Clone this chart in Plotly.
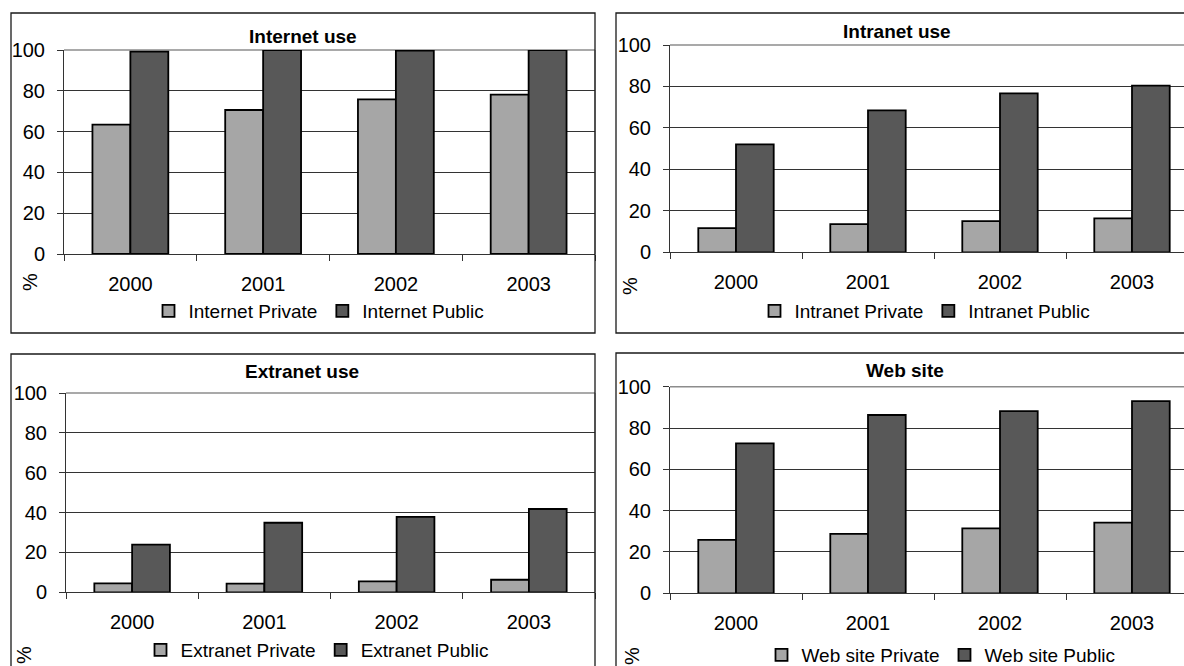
import plotly.graph_objects as go

# Survey results, % of organisations, private vs public sector
years = ["2000", "2001", "2002", "2003"]

internet_private = [63.4, 70.6, 75.8, 78.1]
internet_public = [99.2, 100.0, 99.7, 99.9]

intranet_private = [11.7, 13.6, 15.0, 16.4]
intranet_public = [52.1, 68.5, 76.7, 80.4]

extranet_private = [4.5, 4.4, 5.5, 6.3]
extranet_public = [23.9, 34.9, 37.8, 41.8]

website_private = [25.9, 28.8, 31.4, 34.2]
website_public = [72.6, 86.3, 88.2, 93.0]

y_ticks = [0, 20, 40, 60, 80, 100]

W, H = 1184, 666
FONT = "Arial, 'Liberation Sans', sans-serif"
PRIVATE_COLOR = "#a6a6a6"
PUBLIC_COLOR = "#585858"
TEXT_SIZE = 20
LEGEND_SIZE = 19


def px(x):
    return x / W


def py(y):
    return 1 - y / H


panels = [
    dict(title="Internet use", private=internet_private, public=internet_public,
         pname="Internet Private", uname="Internet Public",
         plot=(64, 50, 595, 254), frame=(11, 13, 595, 333),
         title_xy=(303, 36), pct_xy=(30, 282), legend_xy=(319, 311)),
    dict(title="Intranet use", private=intranet_private, public=intranet_public,
         pname="Intranet Private", uname="Intranet Public",
         plot=(670, 45, 1198, 252.3), frame=(616, 13, 1210, 333),
         title_xy=(897, 31), pct_xy=(630, 286), legend_xy=(925, 311)),
    dict(title="Extranet use", private=extranet_private, public=extranet_public,
         pname="Extranet Private", uname="Extranet Public",
         plot=(66, 393, 595, 592.3), frame=(11, 354, 595, 700),
         title_xy=(302, 371), pct_xy=(24, 655), legend_xy=(317, 650)),
    dict(title="Web site", private=website_private, public=website_public,
         pname="Web site Private", uname="Web site Public",
         plot=(670, 386.7, 1198, 593.3), frame=(616, 353, 1210, 700),
         title_xy=(905, 370), pct_xy=(632, 656), legend_xy=(941, 655)),
]

fig = go.Figure()
shapes = []
annotations = []
layout_axes = {}
legends = {}

for i, p in enumerate(panels, start=1):
    sfx = "" if i == 1 else str(i)
    xa, ya = f"x{sfx}", f"y{sfx}"
    leg = f"legend{sfx}"
    x0, y0, x1, y1 = p["plot"]
    cat_w = (x1 - x0) / 4.0
    x_end = min(x1, W)
    x_range = [-0.5, -0.5 + (x_end - x0) / cat_w]

    for name, vals, color in ((p["pname"], p["private"], PRIVATE_COLOR),
                              (p["uname"], p["public"], PUBLIC_COLOR)):
        fig.add_trace(go.Bar(
            x=years, y=vals, name=name, xaxis=xa, yaxis=ya, legend=leg,
            marker=dict(color=color, line=dict(color="#000000", width=1.8)),
            hoverinfo="x+y+name",
        ))

    layout_axes[f"xaxis{sfx}"] = dict(
        domain=[px(x0), px(x_end)], anchor=ya, type="category",
        range=x_range, tickson="boundaries", ticks="outside", ticklen=6,
        tickcolor="#333333", showline=True, linecolor="#333333", linewidth=1,
        showgrid=False, ticklabelstandoff=12,
        tickfont=dict(family=FONT, size=TEXT_SIZE, color="#000000"), fixedrange=True,
    )
    layout_axes[f"yaxis{sfx}"] = dict(
        domain=[py(y1), py(y0)], anchor=xa, range=[0, 100],
        tickvals=y_ticks, ticks="outside", ticklen=6, tickcolor="#333333",
        showline=True, linecolor="#333333", linewidth=1,
        showgrid=True, gridcolor="#333333", gridwidth=1, zeroline=False,
        ticklabelstandoff=8,
        tickfont=dict(family=FONT, size=TEXT_SIZE, color="#000000"), fixedrange=True,
    )

    # plot area border (top and right) in grey
    shapes.append(dict(type="line", xref="paper", yref="paper",
                       x0=px(x0), x1=px(x_end), y0=py(y0), y1=py(y0),
                       line=dict(color="#8c8c8c", width=1.5), layer="between"))
    if x1 <= W:
        shapes.append(dict(type="line", xref="paper", yref="paper",
                           x0=px(x1), x1=px(x1), y0=py(y0), y1=py(y1),
                           line=dict(color="#8c8c8c", width=1.2), layer="between"))

    # chart frame
    fx0, fy0, fx1, fy1 = p["frame"]
    shapes.append(dict(type="rect", xref="paper", yref="paper",
                       x0=px(fx0), x1=px(fx1), y0=py(fy1), y1=py(fy0),
                       line=dict(color="#1a1a1a", width=1.3), layer="above"))

    tx, ty = p["title_xy"]
    annotations.append(dict(text=f"<b>{p['title']}</b>", xref="paper", yref="paper",
                            x=px(tx), y=py(ty), xanchor="center", yanchor="middle",
                            showarrow=False, font=dict(family=FONT, size=19, color="#000000")))
    cx, cy = p["pct_xy"]
    annotations.append(dict(text="%", xref="paper", yref="paper", textangle=-90,
                            x=px(cx), y=py(cy), xanchor="center", yanchor="middle",
                            showarrow=False, font=dict(family=FONT, size=TEXT_SIZE, color="#000000")))

    lx, ly = p["legend_xy"]
    legends[leg] = dict(orientation="h", x=px(lx), y=py(ly), xanchor="center",
                        yanchor="middle", bgcolor="rgba(0,0,0,0)", borderwidth=0,
                        font=dict(family=FONT, size=LEGEND_SIZE, color="#000000"),
                        itemwidth=30, tracegroupgap=0, traceorder="normal")

fig.update_layout(
    width=W, height=H, autosize=False,
    margin=dict(l=0, r=0, t=0, b=0, autoexpand=False),
    paper_bgcolor="#ffffff", plot_bgcolor="#ffffff",
    barmode="group", bargap=0.4286, bargroupgap=0,
    font=dict(family=FONT, size=TEXT_SIZE, color="#000000"),
    shapes=shapes, annotations=annotations,
    **layout_axes, **legends,
)

fig.write_html("out.html")
